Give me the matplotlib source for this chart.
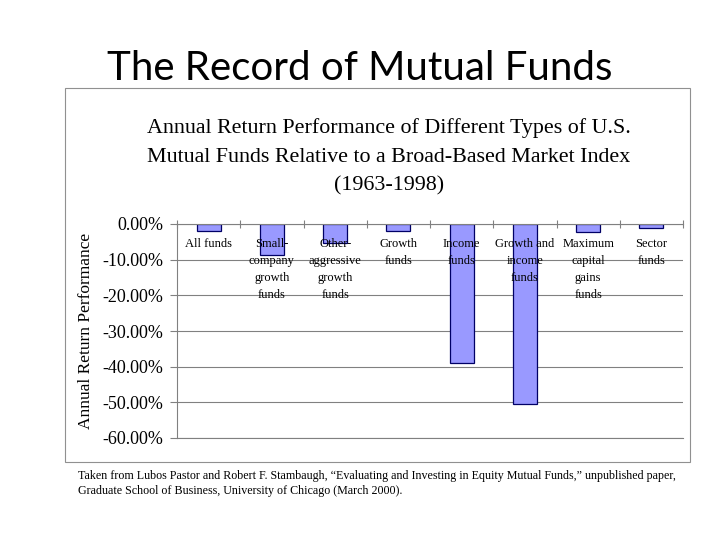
import matplotlib.pyplot as plt
from matplotlib.patches import Rectangle
import numpy as np

categories = ["All funds", "Small-\ncompany\ngrowth\nfunds", "Other-\naggressive\ngrowth\nfunds",
              "Growth\nfunds", "Income\nfunds", "Growth and\nincome\nfunds",
              "Maximum\ncapital\ngains\nfunds", "Sector\nfunds"]
returns = [-1.9, -8.6, -5.3, -1.9, -39.0, -50.6, -2.3, -1.1]
yticks = [0, -10, -20, -30, -40, -50, -60]

fig = plt.figure(figsize=(7.2, 5.4), dpi=100)

# slide title
fig.text(0.5, 1 - 68 / 540, "The Record of Mutual Funds", ha="center", va="center",
         fontsize=29, family="Lato")

# frame around embedded chart
fig.patches.append(Rectangle((65 / 720, 1 - 462 / 540), 625 / 720, 374 / 540,
                             transform=fig.transFigure, fill=False, edgecolor="#909090", lw=0.8))

cx = 389 / 720
fig.text(cx, 1 - 128 / 540, "Annual Return Performance of Different Types of U.S.", ha="center",
         va="center", fontsize=15.8, family="Liberation Serif")
fig.text(cx, 1 - 157 / 540, "Mutual Funds Relative to a Broad-Based Market Index", ha="center",
         va="center", fontsize=15.8, family="Liberation Serif")
fig.text(cx, 1 - 186 / 540, "(1963-1998)", ha="center", va="center",
         fontsize=15.8, family="Liberation Serif")

ax = fig.add_axes([177 / 720, 1 - 438 / 540, 506 / 720, 214 / 540])
x = np.arange(len(categories))
ax.bar(x, returns, width=0.38, color="#9999FF", edgecolor="#000066", linewidth=0.9, zorder=2)
ax.set_xlim(-0.5, len(categories) - 0.5)
ax.set_ylim(-60, 0)
ax.set_yticks(yticks)
ax.set_yticklabels([f"{v:.2f}%" for v in yticks], family="Liberation Serif", fontsize=13)
ax.grid(axis="y", color="#808080", lw=0.8, zorder=0)
ax.xaxis.tick_top()
ax.set_xticks(np.arange(len(categories) + 1) - 0.5)
ax.set_xticklabels([])
ax.tick_params(axis="x", direction="inout", length=6, color="#808080")
ax.tick_params(axis="y", direction="out", length=5, color="#808080", pad=5)
ax.spines["right"].set_visible(False)
for s in ["top", "left", "bottom"]:
    ax.spines[s].set_color("#808080")
ax.set_ylabel("Annual Return Performance", family="Liberation Serif", fontsize=12.5)
ax.yaxis.set_label_coords(-0.164, 0.5)

for i, lab in enumerate(categories):
    ax.text(i, -3.9, lab, ha="center", va="top", fontsize=9, family="Liberation Serif",
            linespacing=1.55, zorder=3)

fig.text(78 / 720, 1 - 476 / 540,
         "Taken from Lubos Pastor and Robert F. Stambaugh, \u201cEvaluating and Investing in Equity Mutual Funds,\u201d unpublished paper,",
         ha="left", va="center", fontsize=8.65, family="Liberation Serif")
fig.text(78 / 720, 1 - 491 / 540,
         "Graduate School of Business, University of Chicago (March 2000).",
         ha="left", va="center", fontsize=8.65, family="Liberation Serif")

fig.savefig("out.png", dpi=100)
